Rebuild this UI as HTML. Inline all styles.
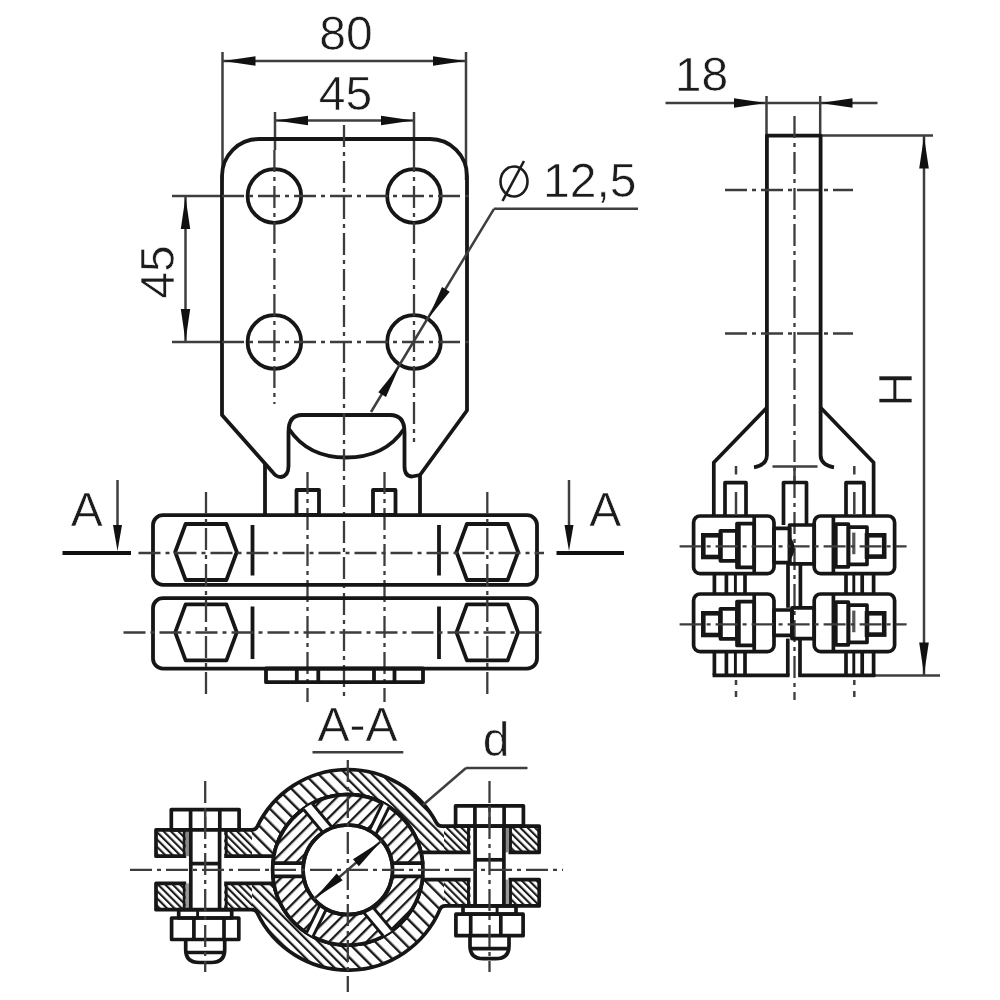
<!DOCTYPE html>
<html><head><meta charset="utf-8"><title>drawing</title>
<style>
html,body{margin:0;padding:0;background:#fff;}
body{width:1000px;height:1000px;overflow:hidden;}
svg{display:block;filter:blur(0.55px);}
text{font-family:"Liberation Sans",sans-serif;fill:#1c1c1c;stroke:#fff;stroke-width:0.6px;}
.tk{stroke:#161616;stroke-width:3.8;fill:none;stroke-linejoin:round;stroke-linecap:butt;}
.tko{stroke:#161616;stroke-width:3.7;stroke-linejoin:round;}
.tk2{stroke:#161616;stroke-width:2.9;fill:none;}
.tks{stroke:#161616;stroke-width:3.7;fill:none;stroke-linejoin:round;}
.tkb{stroke:#161616;stroke-width:4.6;fill:none;}
.tn{stroke:#3e3e3e;stroke-width:2.5;fill:none;}
.tx{stroke:#1c1c1c;stroke-width:2.6;fill:none;}
.cl{stroke:#3c3c3c;stroke-width:2.3;fill:none;stroke-dasharray:22 5 4 5;}
.sec{stroke:#111;stroke-width:4;}
.ar{fill:#111;stroke:none;}
.wh{fill:#fff;stroke:none;}
</style></head>
<body>
<svg width="1000" height="1000" viewBox="0 0 1000 1000">
<defs>
<pattern id="h1" width="9.8" height="9.8" patternUnits="userSpaceOnUse" patternTransform="rotate(-45)">
<rect width="9.8" height="9.8" fill="#fff"/><rect x="0" y="0" width="2.4" height="9.8" fill="#1a1a1a"/></pattern>
<pattern id="h4" width="6.8" height="6.8" patternUnits="userSpaceOnUse" patternTransform="rotate(-45)">
<rect width="6.8" height="6.8" fill="#fff"/><rect x="0" y="0" width="2.2" height="6.8" fill="#1a1a1a"/></pattern>
<pattern id="h3" width="5.2" height="5.2" patternUnits="userSpaceOnUse" patternTransform="rotate(-45)">
<rect width="5.2" height="5.2" fill="#fff"/><rect x="0" y="0" width="2.1" height="5.2" fill="#1a1a1a"/></pattern>
<pattern id="h2" width="8.8" height="8.8" patternUnits="userSpaceOnUse" patternTransform="rotate(45)">
<rect width="8.8" height="8.8" fill="#fff"/><rect x="0" y="0" width="2.3" height="8.8" fill="#1a1a1a"/></pattern>
</defs>
<rect width="1000" height="1000" fill="#fff"/>
<line x1="222.5" y1="52" x2="222.5" y2="180" class="tn"/>
<line x1="466" y1="52" x2="466" y2="180" class="tn"/>
<line x1="222.5" y1="61" x2="466" y2="61" class="tn"/>
<polygon points="223.5,61.0 255.5,56.2 255.5,65.8" class="ar"/>
<polygon points="465.0,61.0 433.0,65.8 433.0,56.2" class="ar"/>
<text x="346" y="49.5" font-size="48" text-anchor="middle">80</text>
<line x1="275" y1="112" x2="275" y2="150" class="tn"/>
<line x1="414" y1="112" x2="414" y2="150" class="tn"/>
<line x1="275" y1="120.5" x2="414" y2="120.5" class="tn"/>
<polygon points="276.0,120.5 308.0,115.8 308.0,125.2" class="ar"/>
<polygon points="413.0,120.5 381.0,125.2 381.0,115.8" class="ar"/>
<text x="345.5" y="110" font-size="48" text-anchor="middle">45</text>
<line x1="172" y1="196" x2="222" y2="196" class="tn"/>
<line x1="172" y1="342" x2="222" y2="342" class="tn"/>
<line x1="185.5" y1="196" x2="185.5" y2="342" class="tn"/>
<polygon points="185.5,197.0 190.2,229.0 180.8,229.0" class="ar"/>
<polygon points="185.5,341.0 180.8,309.0 190.2,309.0" class="ar"/>
<text x="174" y="272" font-size="48" text-anchor="middle" transform="rotate(-90 174 272)">45</text>
<path d="M 222,415 L 222,176 A 37 37 0 0 1 259,139 L 430,139 A 37 37 0 0 1 467,176 L 467,410.5 L 420,475 L 412,476.5 Q 404.5,476.5 404.5,466 L 404.5,432 Q 404.5,415 390,415 L 302,415 Q 288.5,415 288.5,432 L 288.5,466 Q 288.5,476 281,477 Q 276,477 272.5,472 Z" class="tk" />
<path d="M 289,429 C 303,450 324,457.5 346,457.5 C 368,457.5 390,450 404,429" class="tk" />
<line x1="265" y1="464" x2="265" y2="515" class="tk"/>
<line x1="420" y1="475" x2="420" y2="515" class="tk"/>
<circle cx="274.4" cy="196" r="26.8" class="tk"/>
<circle cx="274.4" cy="342" r="26.8" class="tk"/>
<circle cx="414" cy="196" r="26.8" class="tk"/>
<circle cx="414" cy="342" r="26.8" class="tk"/>
<line x1="344" y1="125" x2="344" y2="696" class="cl"/>
<line x1="274.4" y1="150" x2="274.4" y2="404" class="cl"/>
<line x1="414" y1="150" x2="414" y2="442" class="cl"/>
<line x1="222" y1="196" x2="472" y2="196" class="cl"/>
<line x1="222" y1="342" x2="472" y2="342" class="cl"/>
<line x1="494" y1="208.8" x2="638" y2="208.8" class="tn"/>
<line x1="494" y1="208.8" x2="371" y2="412" class="tn"/>
<polygon points="428.2,318.5 442.0,287.1 449.7,291.7" class="ar"/>
<polygon points="399.8,365.5 386.0,396.9 378.3,392.3" class="ar"/>
<ellipse cx="514" cy="181.5" rx="13.5" ry="15" class="tx"/>
<line x1="502.5" y1="201" x2="524" y2="161" class="tx"/>
<text x="543" y="196.5" font-size="48" text-anchor="start">12,5</text>
<rect x="296.5" y="490" width="22.5" height="25" rx="0" class="tk" />
<rect x="373" y="490" width="22.5" height="25" rx="0" class="tk" />
<line x1="307.5" y1="472" x2="307.5" y2="702" class="cl"/>
<line x1="384.5" y1="472" x2="384.5" y2="702" class="cl"/>
<rect x="153" y="515.2" width="384" height="69.6" rx="10" class="tk" />
<rect x="153" y="598.2" width="384" height="70.4" rx="10" class="tk" />
<polygon points="175.2,552 185.6,524 226.4,524 236.8,552 226.4,580 185.6,580" class="tk"/>
<polygon points="175.2,632.4 185.6,604.4 226.4,604.4 236.8,632.4 226.4,660.4 185.6,660.4" class="tk"/>
<line x1="206" y1="492" x2="206" y2="698" class="cl"/>
<polygon points="456.5,552 466.90000000000003,524 507.7,524 518.1,552 507.7,580 466.90000000000003,580" class="tk"/>
<polygon points="456.5,632.4 466.90000000000003,604.4 507.7,604.4 518.1,632.4 507.7,660.4 466.90000000000003,660.4" class="tk"/>
<line x1="487.3" y1="492" x2="487.3" y2="698" class="cl"/>
<line x1="252.5" y1="525" x2="252.5" y2="575.5" class="tk"/>
<line x1="252.5" y1="606.5" x2="252.5" y2="659" class="tk"/>
<line x1="439" y1="525" x2="439" y2="575.5" class="tk"/>
<line x1="439" y1="606.5" x2="439" y2="659" class="tk"/>
<line x1="138.5" y1="553" x2="544" y2="553" class="cl"/>
<line x1="123.5" y1="632.5" x2="544" y2="632.5" class="cl"/>
<rect x="266" y="668.5" width="157" height="13.7" rx="0" class="tk" />
<line x1="296.8" y1="669" x2="296.8" y2="682.5" class="tk"/>
<line x1="318.3" y1="669" x2="318.3" y2="682.5" class="tk"/>
<line x1="374" y1="669" x2="374" y2="682.5" class="tk"/>
<line x1="394.5" y1="669" x2="394.5" y2="682.5" class="tk"/>
<line x1="62.5" y1="553" x2="131" y2="553" class="sec"/>
<line x1="556.5" y1="553" x2="624" y2="553" class="sec"/>
<line x1="117.5" y1="480" x2="117.5" y2="540" class="tn"/>
<polygon points="117.5,551.0 113.0,525.0 122.0,525.0" class="ar"/>
<line x1="569" y1="480" x2="569" y2="540" class="tn"/>
<polygon points="569.0,551.0 564.5,525.0 573.5,525.0" class="ar"/>
<text x="86.7" y="526" font-size="48" text-anchor="middle">A</text>
<text x="605.2" y="526" font-size="48" text-anchor="middle">A</text>
<line x1="665.5" y1="103" x2="877.5" y2="103" class="tn"/>
<polygon points="766.0,103.0 734.0,107.8 734.0,98.2" class="ar"/>
<polygon points="820.5,103.0 852.5,98.2 852.5,107.8" class="ar"/>
<line x1="766.5" y1="96" x2="766.5" y2="136" class="tn"/>
<line x1="820.2" y1="96" x2="820.2" y2="136" class="tn"/>
<text x="701.5" y="90.5" font-size="48" text-anchor="middle">18</text>
<line x1="820" y1="135.6" x2="933" y2="135.6" class="tn"/>
<line x1="873" y1="675.4" x2="940" y2="675.4" class="tn"/>
<line x1="924" y1="136" x2="924" y2="675" class="tn"/>
<polygon points="924.0,136.5 928.8,168.5 919.2,168.5" class="ar"/>
<polygon points="924.0,674.5 919.2,642.5 928.8,642.5" class="ar"/>
<text x="912" y="389.5" font-size="48" text-anchor="middle" transform="rotate(-90 912 389.5)">H</text>
<path d="M 754,467.3 Q 766.9,465 766.9,455 L 766.9,135.6 L 820.6,135.6 L 820.6,455 Q 820.6,465 834,467.3" class="tk" />
<path d="M 767,407.5 L 713.8,462.5 L 713.8,516" class="tks" />
<path d="M 820.5,407.5 L 873.6,462.5 L 873.6,516" class="tks" />
<line x1="794.5" y1="116" x2="794.5" y2="700" class="cl"/>
<line x1="725" y1="190" x2="853" y2="190" class="cl"/>
<line x1="725" y1="333.5" x2="853" y2="333.5" class="cl"/>
<line x1="772.5" y1="466.5" x2="817.5" y2="466.5" class="tn"/>
<path d="M 725,516 L 725,482.7 L 746,482.7 L 746,516" class="tks" />
<path d="M 846,516 L 846,482.7 L 864,482.7 L 864,516" class="tks" />
<path d="M 783.5,525 L 783.5,482.5 L 806.5,482.5 L 806.5,525" class="tks" />
<line x1="736" y1="466" x2="736" y2="474.5" class="tn"/>
<line x1="736" y1="492" x2="736" y2="514" class="tn"/>
<line x1="736" y1="680" x2="736" y2="685" class="tn"/>
<line x1="736" y1="691" x2="736" y2="697" class="tn"/>
<line x1="854.3" y1="466" x2="854.3" y2="474.5" class="tn"/>
<line x1="854.3" y1="492" x2="854.3" y2="514" class="tn"/>
<line x1="854.3" y1="680" x2="854.3" y2="685" class="tn"/>
<line x1="854.3" y1="691" x2="854.3" y2="697" class="tn"/>
<line x1="794.5" y1="466.4" x2="794.5" y2="481" class="tn"/>
<rect x="693.6" y="516" width="80.4" height="57.7" rx="6.5" class="tks" />
<rect x="814.2" y="516" width="80.4" height="57.7" rx="6.5" class="tks" />
<line x1="754.2" y1="516" x2="754.2" y2="573.7" class="tks"/>
<rect x="737" y="523.6" width="17.2" height="43.8" rx="0" class="tks" />
<line x1="739.3" y1="523.6" x2="739.3" y2="567.4" class="tk2"/>
<rect x="720.4" y="530.8" width="16.6" height="30.0" rx="0" class="tks" />
<rect x="703.3" y="535.3" width="17.1" height="21.7" rx="0" class="tkb" />
<line x1="833.4" y1="516" x2="833.4" y2="573.7" class="tks"/>
<rect x="835.8" y="524.2" width="12.6" height="42.6" rx="0" class="tks" />
<rect x="848.4" y="527.2" width="18.6" height="37.2" rx="0" class="tks" />
<line x1="853.8" y1="532.6" x2="853.8" y2="554.2" stroke="#555" stroke-width="3.2"/>
<rect x="867" y="535.3" width="17.2" height="21.3" rx="0" class="tkb" />
<rect x="774" y="528.4" width="15.6" height="34.2" rx="0" class="tks" />
<rect x="789.6" y="525" width="24.6" height="38.8" rx="0" class="tks" />
<line x1="679.6" y1="546.4" x2="906.6" y2="546.4" class="cl"/>
<rect x="693.6" y="594" width="80.4" height="57.7" rx="6.5" class="tks" />
<rect x="814.2" y="594" width="80.4" height="57.7" rx="6.5" class="tks" />
<line x1="754.2" y1="594" x2="754.2" y2="651.7" class="tks"/>
<rect x="737" y="601.6" width="17.2" height="43.8" rx="0" class="tks" />
<line x1="739.3" y1="601.6" x2="739.3" y2="645.4" class="tk2"/>
<rect x="720.4" y="608.8" width="16.6" height="30.0" rx="0" class="tks" />
<rect x="703.3" y="613.3" width="17.1" height="21.7" rx="0" class="tkb" />
<line x1="833.4" y1="594" x2="833.4" y2="651.7" class="tks"/>
<rect x="835.8" y="602.2" width="12.6" height="42.6" rx="0" class="tks" />
<rect x="848.4" y="605.2" width="18.6" height="37.2" rx="0" class="tks" />
<line x1="853.8" y1="610.6" x2="853.8" y2="632.2" stroke="#555" stroke-width="3.2"/>
<rect x="867" y="613.3" width="17.2" height="21.3" rx="0" class="tkb" />
<rect x="774" y="610" width="18" height="25.3" rx="0" class="tks" />
<rect x="792" y="607.8" width="22.2" height="30.8" rx="0" class="tks" />
<line x1="679.6" y1="624.4" x2="906.6" y2="624.4" class="cl"/>
<path d="M 790.5,537 Q 798.5,548 790.5,559.5 Z" fill="#161616"/>
<line x1="714.4" y1="573.7" x2="714.4" y2="594" class="tks"/>
<line x1="714.4" y1="651.7" x2="714.4" y2="675.4" class="tks"/>
<line x1="726.4" y1="573.7" x2="726.4" y2="594" class="tks"/>
<line x1="726.4" y1="651.7" x2="726.4" y2="675.4" class="tks"/>
<line x1="735.4" y1="573.7" x2="735.4" y2="594" class="tk2"/>
<line x1="735.4" y1="651.7" x2="735.4" y2="675.4" class="tk2"/>
<line x1="745" y1="573.7" x2="745" y2="594" class="tks"/>
<line x1="745" y1="651.7" x2="745" y2="675.4" class="tks"/>
<line x1="846" y1="573.7" x2="846" y2="594" class="tks"/>
<line x1="846" y1="651.7" x2="846" y2="675.4" class="tks"/>
<line x1="853.8" y1="573.7" x2="853.8" y2="594" class="tk2"/>
<line x1="853.8" y1="651.7" x2="853.8" y2="675.4" class="tk2"/>
<line x1="862.2" y1="573.7" x2="862.2" y2="594" class="tks"/>
<line x1="862.2" y1="651.7" x2="862.2" y2="675.4" class="tks"/>
<line x1="873.6" y1="573.7" x2="873.6" y2="594" class="tks"/>
<line x1="873.6" y1="651.7" x2="873.6" y2="675.4" class="tks"/>
<line x1="712.6" y1="675.4" x2="789.6" y2="675.4" class="tks"/>
<line x1="798.2" y1="675.4" x2="875.4" y2="675.4" class="tks"/>
<line x1="787.8" y1="638.6" x2="787.8" y2="675.4" class="tks"/>
<line x1="800" y1="638.6" x2="800" y2="675.4" class="tks"/>
<line x1="788" y1="563.8" x2="788" y2="607.8" class="tks"/>
<line x1="800.4" y1="563.8" x2="800.4" y2="607.8" class="tks"/>
<text x="357.5" y="741" font-size="48" text-anchor="middle">A-A</text>
<line x1="312.5" y1="752.2" x2="403.3" y2="752.2" class="tn"/>
<clipPath id="fl"><rect x="150" y="815" width="102" height="105"/><rect x="444" y="815" width="100" height="105"/></clipPath>
<clipPath id="qa"><rect x="252" y="760" width="95.80000000000001" height="109.79999999999995"/><rect x="347.8" y="869.8" width="96.19999999999999" height="110"/></clipPath>
<clipPath id="qb"><rect x="347.8" y="760" width="96.19999999999999" height="109.79999999999995"/><rect x="252" y="869.8" width="95.80000000000001" height="110"/></clipPath>
<path d="M 156,829.9 L 251.78,829.9 Q 255.78,829.9 257.18,826.8 A 100.3 100.3 0 0 1 436.46,822.90 Q 438.08,826.10 442.08,826.10 L 539.2,826.10 L 539.2,852.40 L 420.96,852.40 A 75.2 75.2 0 0 0 273.84,856.1999999999999 L 156,856.1999999999999 Z" fill="url(#h1)" clip-path="url(#qa)"/>
<path d="M 156,829.9 L 251.78,829.9 Q 255.78,829.9 257.18,826.8 A 100.3 100.3 0 0 1 436.46,822.90 Q 438.08,826.10 442.08,826.10 L 539.2,826.10 L 539.2,852.40 L 420.96,852.40 A 75.2 75.2 0 0 0 273.84,856.1999999999999 L 156,856.1999999999999 Z" fill="url(#h4)" clip-path="url(#qb)"/>
<path d="M 156,829.9 L 251.78,829.9 Q 255.78,829.9 257.18,826.8 A 100.3 100.3 0 0 1 436.46,822.90 Q 438.08,826.10 442.08,826.10 L 539.2,826.10 L 539.2,852.40 L 420.96,852.40 A 75.2 75.2 0 0 0 273.84,856.1999999999999 L 156,856.1999999999999 Z" fill="url(#h3)" clip-path="url(#fl)"/>
<path d="M 156,829.9 L 251.78,829.9 Q 255.78,829.9 257.18,826.8 A 100.3 100.3 0 0 1 436.46,822.90 Q 438.08,826.10 442.08,826.10 L 539.2,826.10 L 539.2,852.40 L 420.96,852.40 A 75.2 75.2 0 0 0 273.84,856.1999999999999 L 156,856.1999999999999 Z" fill="none" class="tko"/>
<path d="M 156,909.6999999999999 L 251.78,909.6999999999999 Q 255.78,909.6999999999999 257.18,912.8 A 100.3 100.3 0 0 0 440.08,909.10 Q 441.38,905.90 445.38,905.90 L 539.2,905.90 L 539.2,879.60 L 422.36,879.60 A 75.2 75.2 0 0 1 273.84,883.4 L 156,883.4 Z" fill="url(#h1)" clip-path="url(#qa)"/>
<path d="M 156,909.6999999999999 L 251.78,909.6999999999999 Q 255.78,909.6999999999999 257.18,912.8 A 100.3 100.3 0 0 0 440.08,909.10 Q 441.38,905.90 445.38,905.90 L 539.2,905.90 L 539.2,879.60 L 422.36,879.60 A 75.2 75.2 0 0 1 273.84,883.4 L 156,883.4 Z" fill="url(#h4)" clip-path="url(#qb)"/>
<path d="M 156,909.6999999999999 L 251.78,909.6999999999999 Q 255.78,909.6999999999999 257.18,912.8 A 100.3 100.3 0 0 0 440.08,909.10 Q 441.38,905.90 445.38,905.90 L 539.2,905.90 L 539.2,879.60 L 422.36,879.60 A 75.2 75.2 0 0 1 273.84,883.4 L 156,883.4 Z" fill="url(#h3)" clip-path="url(#fl)"/>
<path d="M 156,909.6999999999999 L 251.78,909.6999999999999 Q 255.78,909.6999999999999 257.18,912.8 A 100.3 100.3 0 0 0 440.08,909.10 Q 441.38,905.90 445.38,905.90 L 539.2,905.90 L 539.2,879.60 L 422.36,879.60 A 75.2 75.2 0 0 1 273.84,883.4 L 156,883.4 Z" fill="none" class="tko"/>
<circle cx="347.8" cy="869.8" r="75.2" class="tks"/>
<path d="M 272.89,863.1999999999999 A 75.2 75.2 0 0 1 422.71,863.1999999999999 L 392.11,863.1999999999999 A 44.8 44.8 0 0 0 303.49,863.1999999999999 Z" fill="url(#h2)" class="tko"/>
<path d="M 272.89,876.4 A 75.2 75.2 0 0 0 422.71,876.4 L 392.11,876.4 A 44.8 44.8 0 0 1 303.49,876.4 Z" fill="url(#h2)" class="tko"/>
<clipPath id="ann"><path clip-rule="evenodd" d="M 272.6,869.8 a 75.2 75.2 0 1 0 150.4 0 a 75.2 75.2 0 1 0 -150.4 0 Z M 303.0,869.8 a 44.8 44.8 0 1 0 89.6 0 a 44.8 44.8 0 1 0 -89.6 0 Z"/></clipPath>
<g clip-path="url(#ann)">
<polygon points="295.0,799.3 331.0,842.2 339.0,835.5 303.0,792.6" fill="#fff"/>
<line x1="295.0" y1="799.3" x2="331.0" y2="842.2" class="tk2"/>
<line x1="303.0" y1="792.6" x2="339.0" y2="835.5" class="tk2"/>
</g>
<g clip-path="url(#ann)">
<polygon points="356.6,904.1 392.6,947.0 400.6,940.3 364.6,897.4" fill="#fff"/>
<line x1="356.6" y1="904.1" x2="392.6" y2="947.0" class="tk2"/>
<line x1="364.6" y1="897.4" x2="400.6" y2="940.3" class="tk2"/>
</g>
<g clip-path="url(#ann)">
<polygon points="371.1,843.8 395.6,793.5 388.9,790.2 364.4,840.5" fill="#fff"/>
<line x1="371.1" y1="843.8" x2="395.6" y2="793.5" class="tk2"/>
<line x1="364.4" y1="840.5" x2="388.9" y2="790.2" class="tk2"/>
</g>
<g clip-path="url(#ann)">
<polygon points="306.7,949.4 331.2,899.1 324.5,895.8 300.0,946.1" fill="#fff"/>
<line x1="306.7" y1="949.4" x2="331.2" y2="899.1" class="tk2"/>
<line x1="300.0" y1="946.1" x2="324.5" y2="895.8" class="tk2"/>
</g>
<circle cx="347.8" cy="869.8" r="44.8" class="tks" fill="#fff"/>
<rect x="186.2" y="828.9" width="38.0" height="81.8" rx="0" class="wh" />
<line x1="184.2" y1="829.9" x2="184.2" y2="856.1999999999999" class="tk2"/>
<line x1="184.2" y1="883.4" x2="184.2" y2="909.6999999999999" class="tk2"/>
<line x1="226.2" y1="829.9" x2="226.2" y2="856.1999999999999" class="tk2"/>
<line x1="226.2" y1="883.4" x2="226.2" y2="909.6999999999999" class="tk2"/>
<rect x="185.7" y="829.9" width="4" height="26.299999999999997" fill="#888"/>
<rect x="185.7" y="883.4" width="4" height="26.299999999999997" fill="#999"/>
<line x1="190.79999999999998" y1="829.9" x2="190.79999999999998" y2="909.6999999999999" class="tks"/>
<line x1="219.6" y1="829.9" x2="219.6" y2="909.6999999999999" class="tks"/>
<line x1="190.79999999999998" y1="863.5999999999999" x2="219.6" y2="863.5999999999999" class="tks"/>
<rect x="171.29999999999998" y="809.5999999999999" width="67.8" height="20.3" rx="0" class="tks" fill="#fff"/>
<line x1="190.6" y1="809.5999999999999" x2="190.6" y2="829.9" class="tks"/>
<line x1="219.79999999999998" y1="809.5999999999999" x2="219.79999999999998" y2="829.9" class="tks"/>
<line x1="205.2" y1="809.5999999999999" x2="205.2" y2="829.9" class="tn"/>
<rect x="178.7" y="909.6999999999999" width="53.0" height="8.3" rx="0" class="tks" fill="#fff"/>
<line x1="197.6" y1="909.6999999999999" x2="197.6" y2="918.0" class="tk2"/>
<rect x="171.6" y="918.0" width="67.2" height="21.5" rx="0" class="tks" fill="#fff"/>
<line x1="193.89999999999998" y1="918.0" x2="193.89999999999998" y2="939.5" class="tks"/>
<line x1="224.0" y1="918.0" x2="224.0" y2="939.5" class="tks"/>
<path d="M 185.7,939.5 L 185.7,949.8 Q 185.7,962.5 199.2,962.5 L 211.2,962.5 Q 224.7,962.5 224.7,949.8 L 224.7,939.5" class="tks" fill="#fff"/>
<line x1="186.7" y1="952.5" x2="223.7" y2="952.5" class="tks"/>
<line x1="205.2" y1="781" x2="205.2" y2="972" class="cl"/>
<rect x="470.5" y="825.1" width="38.0" height="81.8" rx="0" class="wh" />
<line x1="468.5" y1="826.1" x2="468.5" y2="852.4" class="tk2"/>
<line x1="468.5" y1="879.6" x2="468.5" y2="905.9" class="tk2"/>
<line x1="510.5" y1="826.1" x2="510.5" y2="852.4" class="tk2"/>
<line x1="510.5" y1="879.6" x2="510.5" y2="905.9" class="tk2"/>
<rect x="505.0" y="826.1" width="4" height="26.299999999999997" fill="#888"/>
<rect x="505.0" y="879.6" width="4" height="26.299999999999997" fill="#999"/>
<line x1="475.1" y1="826.1" x2="475.1" y2="905.9" class="tks"/>
<line x1="503.9" y1="826.1" x2="503.9" y2="905.9" class="tks"/>
<line x1="475.1" y1="859.8" x2="503.9" y2="859.8" class="tks"/>
<rect x="455.6" y="805.8" width="67.8" height="20.3" rx="0" class="tks" fill="#fff"/>
<line x1="474.9" y1="805.8" x2="474.9" y2="826.1" class="tks"/>
<line x1="504.1" y1="805.8" x2="504.1" y2="826.1" class="tks"/>
<line x1="489.5" y1="805.8" x2="489.5" y2="826.1" class="tn"/>
<rect x="463.0" y="905.9" width="53.0" height="8.3" rx="0" class="tks" fill="#fff"/>
<line x1="497.1" y1="905.9" x2="497.1" y2="914.2" class="tk2"/>
<rect x="455.9" y="914.2" width="67.2" height="21.5" rx="0" class="tks" fill="#fff"/>
<line x1="500.8" y1="914.2" x2="500.8" y2="935.7" class="tks"/>
<line x1="470.7" y1="914.2" x2="470.7" y2="935.7" class="tks"/>
<path d="M 470.0,935.7 L 470.0,946.0 Q 470.0,958.7 483.5,958.7 L 495.5,958.7 Q 509.0,958.7 509.0,946.0 L 509.0,935.7" class="tks" fill="#fff"/>
<line x1="471.0" y1="948.7" x2="508.0" y2="948.7" class="tks"/>
<line x1="489.5" y1="781" x2="489.5" y2="972" class="cl"/>
<line x1="130" y1="869.8" x2="563" y2="869.8" class="cl"/>
<line x1="347.8" y1="760" x2="347.8" y2="992" class="cl"/>
<line x1="466" y1="768" x2="527.5" y2="768" class="tn"/>
<line x1="466" y1="768" x2="423.0" y2="805.0" class="tn"/>
<line x1="381.7" y1="840.6" x2="313.9" y2="899.0" class="tn"/>
<polygon points="381.0,841.2 358.9,866.2 353.0,859.3" class="ar"/>
<polygon points="314.6,898.4 336.7,873.4 342.6,880.3" class="ar"/>
<text x="496" y="755.5" font-size="48" text-anchor="middle">d</text>
</svg>
</body></html>
